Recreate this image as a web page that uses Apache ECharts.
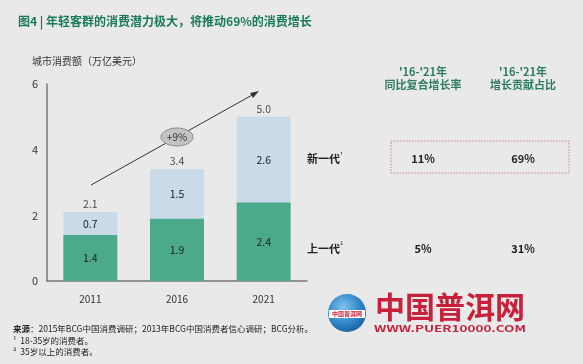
<!DOCTYPE html>
<html><head><meta charset="utf-8">
<script src="https://cdn.jsdelivr.net/npm/echarts@6/dist/echarts.min.js"></script>
<style>html,body{margin:0;padding:0;background:#e9e9e9}#c{width:583px;height:364px}</style>
</head><body><div id="c"></div>
<script>
var years = ['2011', '2016', '2021'];
var olderGen = [1.4, 1.9, 2.4];
var newGen = [0.7, 1.5, 2.6];
var totals = [2.1, 3.4, 5.0];
var yTicks = [0, 2, 4, 6];
var tableHeaders = [["'16-'21年", '同比复合增长率'], ["'16-'21年", '增长贡献占比']];
var rowNames = ['新一代', '上一代'];
var rowSup = ['¹', '²'];
var cagr = ['11%', '5%'];
var share = ['69%', '31%'];
var growthLabel = '+9%';

var FONT = "'Noto Sans CJK SC', 'Open Sans', sans-serif";
var chart = echarts.init(document.getElementById('c'));
var graphics = [];
graphics.push({type:'text', left:32, top:56, style:{text:'城市消费额（万亿美元）', font:'10px ' + FONT, fill:'#333'}});
var colX = [423, 523];
tableHeaders.forEach(function(h, i){
  graphics.push({type:'text', x:colX[i], y:72, style:{text:h[0], font:'bold 11px ' + FONT, fill:'#2e7d5e', align:'center', verticalAlign:'middle'}});
  graphics.push({type:'text', x:colX[i], y:85, style:{text:h[1], font:'bold 11px ' + FONT, fill:'#2e7d5e', align:'center', verticalAlign:'middle'}});
});
var rowY = [159, 249];
rowNames.forEach(function(n, i){
  graphics.push({type:'text', x:307, y:rowY[i], style:{text:n, font:'bold 11px ' + FONT, fill:'#222', verticalAlign:'middle'}});
  graphics.push({type:'text', x:340, y:rowY[i]-4, style:{text:rowSup[i], font:'7px ' + FONT, fill:'#222', verticalAlign:'middle'}});
  graphics.push({type:'text', x:colX[0], y:rowY[i], style:{text:cagr[i], font:'bold 11px ' + FONT, fill:'#222', align:'center', verticalAlign:'middle'}});
  graphics.push({type:'text', x:colX[1], y:rowY[i], style:{text:share[i], font:'bold 11px ' + FONT, fill:'#222', align:'center', verticalAlign:'middle'}});
});
graphics.push({type:'rect', shape:{x:391, y:141, width:178, height:32}, style:{fill:'none', stroke:'#cf7f8c', lineWidth:1, lineDash:[1.5,1.5]}});
graphics.push({type:'line', shape:{x1:91, y1:185, x2:254, y2:94}, style:{stroke:'#333', lineWidth:1}});
graphics.push({type:'polygon', shape:{points:[[259,91],[250,93],[253,98]]}, style:{fill:'#333'}});
graphics.push({type:'ellipse', shape:{cx:177, cy:137, rx:16, ry:9}, style:{fill:'#c3c3c3', stroke:'#8c8c8c', lineWidth:1}});
graphics.push({type:'text', x:177, y:137, style:{text:growthLabel, font:'10px ' + FONT, fill:'#333', align:'center', verticalAlign:'middle'}});
graphics.push({type:'text', left:13, top:325, style:{rich:{b:{font:'bold 8.5px ' + FONT, fill:'#222'}, n:{font:'8.5px ' + FONT, fill:'#222'}}, text:'{b|来源}{n|：2015年BCG中国消费调研；2013年BCG中国消费者信心调研；BCG分析。}'}});
graphics.push({type:'text', left:13, top:337, style:{text:'¹  18-35岁的消费者。', font:'8.5px ' + FONT, fill:'#222'}});
graphics.push({type:'text', left:13, top:348, style:{text:'²  35岁以上的消费者。', font:'8.5px ' + FONT, fill:'#222'}});
graphics.push({type:'circle', shape:{cx:347, cy:313, r:19}, style:{fill:new echarts.graphic.RadialGradient(0.4,0.35,0.8,[{offset:0,color:'#7fc3ee'},{offset:0.6,color:'#2a7fc4'},{offset:1,color:'#164f8c'}])}});
graphics.push({type:'rect', shape:{x:329, y:310, width:36, height:8}, style:{fill:'#ffffff'}});
graphics.push({type:'text', x:347, y:314, style:{text:'中国普洱网', font:'bold 6px ' + FONT, fill:'#c8203a', align:'center', verticalAlign:'middle'}});
graphics.push({type:'text', x:450, y:307, style:{text:'中国普洱网', font:'bold 30px ' + FONT, fill:'#c8203a', align:'center', verticalAlign:'middle'}});
graphics.push({type:'text', x:450, y:329, scaleX:1.5, style:{text:'WWW.PUER10000.COM', font:'bold 9px ' + FONT, fill:'#c8203a', align:'center', verticalAlign:'middle'}});

chart.setOption({
  backgroundColor:'#e9e9e9',
  textStyle:{fontFamily:FONT},
  title:{text:'图4 | 年轻客群的消费潜力极大，将推动69%的消费增长', left:13, top:10, textStyle:{fontSize:12, fontWeight:'bold', color:'#1b7a56', fontFamily:FONT}},
  grid:{left:47, right:276, top:84, bottom:83},
  xAxis:{type:'category', data:years, axisLine:{lineStyle:{color:'#777', width:1.5}}, axisTick:{show:false}, axisLabel:{color:'#333', fontSize:10, margin:13}},
  yAxis:{type:'value', min:0, max:6, interval:2, axisLine:{show:true, lineStyle:{color:'#777', width:1.5}}, axisTick:{show:false}, splitLine:{show:false}, axisLabel:{color:'#333', fontSize:11, margin:9, formatter:function(v){return yTicks.indexOf(v) >= 0 ? String(v) : '';}}},
  series:[
    {type:'bar', stack:'a', data:olderGen, barWidth:54, itemStyle:{color:'#4aaa8b'}, label:{show:true, position:'inside', color:'#222', fontSize:10.5, formatter:function(p){return p.value.toFixed(1);}}},
    {type:'bar', stack:'a', data:newGen, barWidth:54, itemStyle:{color:'#c9dbe8'}, label:{show:true, position:'inside', color:'#222', fontSize:10.5, formatter:function(p){return p.value.toFixed(1);}}},
    {type:'scatter', data:totals, symbolSize:0, silent:true, label:{show:true, position:'top', distance:3, color:'#222', fontSize:10.5, formatter:function(p){return p.value.toFixed(1);}}}
  ],
  graphic:graphics
});
</script></body></html>
